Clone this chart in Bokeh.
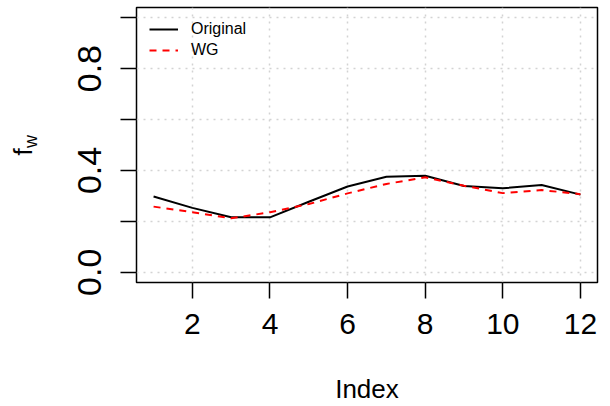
import math

from bokeh.plotting import figure
from bokeh.layouts import row
from bokeh.models import (Range1d, FixedTicker, NumeralTickFormatter, Legend,
                          LegendItem)
from bokeh.core.properties import value
from bokeh.embed import file_html
from bokeh.resources import INLINE

# Series values per index
index = [1, 2, 3, 4, 5, 6, 7, 8, 9, 10, 11, 12]
original = [0.298, 0.253, 0.216, 0.216, 0.277, 0.337, 0.375, 0.379,
            0.339, 0.330, 0.343, 0.305]
wg = [0.258, 0.236, 0.212, 0.236, 0.268, 0.310, 0.347, 0.373,
      0.340, 0.311, 0.323, 0.307]

x_ticks = [2, 4, 6, 8, 10, 12]
y_ticks_labelled = [0.0, 0.4, 0.8]
y_ticks_unlabelled = [0.2, 0.6, 1.0]

FONT = "Liberation Sans"
GRID = "#d3d3d3"

# narrow strip on the left carrying the y title "f" with subscript "w";
# its frame lines up with the main frame (rows align plot frames), and the
# flipped range makes its y units run top-down in pixels
ttl = figure(width=60, height=406, output_backend="svg", toolbar_location=None,
             x_range=Range1d(0, 60), y_range=Range1d(282, 7),
             x_axis_type=None, y_axis_type=None,
             min_border_left=0, min_border_right=0, min_border_top=7,
             min_border_bottom=124)
ttl.outline_line_color = None
ttl.xgrid.visible = False
ttl.ygrid.visible = False
ttl.text(x=[22.5], y=[151.5], text=["f"], angle=math.pi / 2,
         text_align="center", text_baseline="middle",
         text_font=value(FONT), text_font_size="26px", text_color="black")
ttl.text(x=[30.5], y=[141], text=["w"], angle=math.pi / 2,
         text_align="center", text_baseline="middle",
         text_font=value(FONT), text_font_size="18px", text_color="black")

p = figure(width=550, height=406, output_backend="svg", toolbar_location=None,
           x_range=Range1d(0.56, 12.44), y_range=Range1d(-0.04, 1.04),
           min_border_left=76, min_border_right=13, min_border_top=7,
           min_border_bottom=124)

p.outline_line_color = "black"
p.outline_line_width = 1.5
p.background_fill_color = "white"
p.border_fill_color = "white"

# x axis
p.xaxis.ticker = FixedTicker(ticks=x_ticks)
p.xaxis.axis_label = "Index"
p.xaxis.axis_label_text_font = FONT
p.xaxis.axis_label_text_font_style = "normal"
p.xaxis.axis_label_text_font_size = "26px"
p.xaxis.axis_label_text_color = "black"
p.xaxis.axis_label_standoff = 37
p.xaxis.major_label_text_font = FONT
p.xaxis.major_label_text_font_size = "30px"
p.xaxis.major_label_text_color = "black"
p.xaxis.major_label_standoff = 15
p.xaxis.major_tick_out = 16
p.xaxis.major_tick_in = 0
p.xaxis.minor_tick_line_color = None
p.xaxis.major_tick_line_width = 1.5
p.xaxis.major_tick_line_color = "black"
p.xaxis.axis_line_color = None

# y axis: every other tick carries a label
p.yaxis.ticker = FixedTicker(ticks=y_ticks_labelled, minor_ticks=y_ticks_unlabelled)
p.yaxis.formatter = NumeralTickFormatter(format="0.0")
p.yaxis.major_label_orientation = "vertical"
p.yaxis.major_label_text_font = FONT
p.yaxis.major_label_text_font_size = "34px"
p.yaxis.major_label_text_color = "black"
p.yaxis.major_label_standoff = 19
p.yaxis.major_tick_out = 16
p.yaxis.major_tick_in = 0
p.yaxis.minor_tick_out = 16
p.yaxis.minor_tick_in = 0
p.yaxis.major_tick_line_width = 1.5
p.yaxis.minor_tick_line_width = 1.5
p.yaxis.major_tick_line_color = "black"
p.yaxis.minor_tick_line_color = "black"
p.yaxis.axis_line_color = None

# dotted grid at the ticks
for g in (p.xgrid, p.ygrid):
    g.grid_line_color = GRID
    g.grid_line_dash = "2 5"
    g.grid_line_width = 1.5
p.ygrid.minor_grid_line_color = GRID
p.ygrid.minor_grid_line_dash = "2 5"
p.ygrid.minor_grid_line_width = 1.5

r_orig = p.line(index, original, line_color="black", line_width=2)
r_wg = p.line(index, wg, line_color="red", line_width=2, line_dash="7 6")

legend = Legend(items=[LegendItem(label="Original", renderers=[r_orig]),
                       LegendItem(label="WG", renderers=[r_wg])],
                location="top_left")
legend.border_line_color = None
legend.background_fill_alpha = 0
legend.margin = 13
legend.padding = 10
legend.spacing = 3
legend.glyph_width = 29
legend.glyph_height = 16
legend.label_height = 16
legend.label_standoff = 13
legend.label_text_font = FONT
legend.label_text_font_size = "16px"
legend.label_text_color = "black"
p.add_layout(legend)

layout = row(ttl, p, spacing=0)

open("out.html", "w").write(file_html(layout, INLINE))
